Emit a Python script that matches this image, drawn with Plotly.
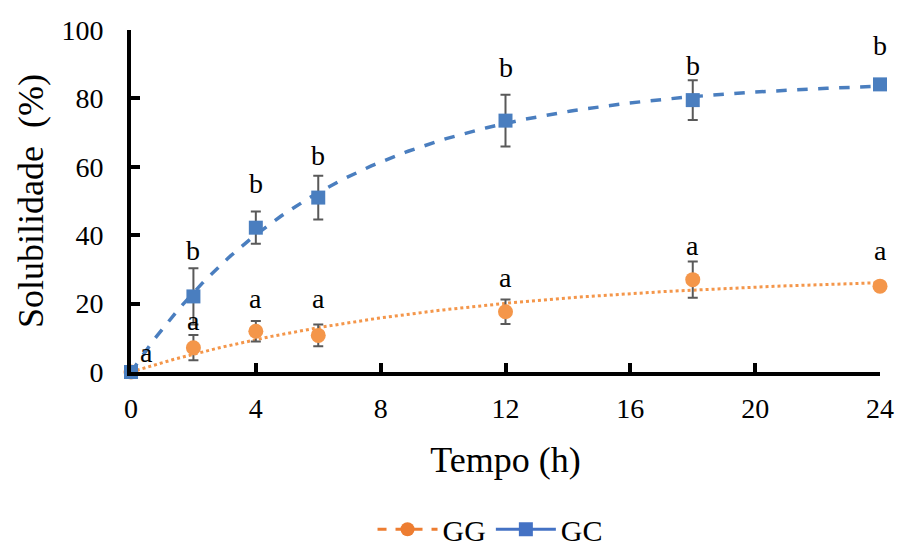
import numpy as np
import plotly.graph_objects as go

# Sampling times (h)
tempo = [0, 2, 4, 6, 12, 18, 24]

# Solubility means and standard deviations (%)
gg_mean = [0.0, 7.1, 11.9, 10.7, 17.6, 27.0, 25.1]
gg_sd = [0.0, 3.7, 3.0, 3.2, 3.6, 5.3, 0.5]
gc_mean = [0.0, 22.1, 42.2, 51.0, 73.5, 79.5, 84.1]
gc_sd = [0.0, 8.2, 4.7, 6.4, 7.6, 5.8, 1.5]

# Significance letters
gg_letters = ["a", "a", "a", "a", "a", "a", "a"]
gc_letters = ["", "b", "b", "b", "b", "b", "b"]

ORANGE = "#F4964A"
BLUE = "#4A7EBF"
ERR = "#595959"
FONT = "Liberation Serif, Times New Roman, serif"


def fit_saturation(x, y):
    """Least-squares fit of y = a*(1 - exp(-k*x)) by scanning k."""
    x = np.asarray(x, float)
    y = np.asarray(y, float)
    best = None
    for k in np.linspace(0.01, 1.0, 2000):
        g = 1 - np.exp(-k * x)
        a = (g @ y) / (g @ g)
        err = np.sum((y - a * g) ** 2)
        if best is None or err < best[0]:
            best = (err, a, k)
    return best[1], best[2]


xs = np.linspace(0, 24, 241)
a_gg, k_gg = fit_saturation(tempo, gg_mean)
gg_trend = a_gg * (1 - np.exp(-k_gg * xs))
a_gc, k_gc = fit_saturation(tempo, gc_mean)
gc_trend = a_gc * (1 - np.exp(-k_gc * xs))

fig = go.Figure()

# Trend curves
fig.add_trace(go.Scatter(x=xs, y=gg_trend, mode="lines", showlegend=False,
                         line=dict(color=ORANGE, width=3, dash="dot"),
                         cliponaxis=False, hoverinfo="skip"))
fig.add_trace(go.Scatter(x=xs, y=gc_trend, mode="lines", showlegend=False,
                         line=dict(color=BLUE, width=3.5, dash="dash"),
                         cliponaxis=False, hoverinfo="skip"))

# Measured points with error bars
fig.add_trace(go.Scatter(x=tempo, y=gg_mean, mode="markers", showlegend=False,
                         marker=dict(color=ORANGE, size=15, symbol="circle"),
                         error_y=dict(type="data", array=gg_sd, color=ERR,
                                      thickness=2, width=5),
                         cliponaxis=False))
fig.add_trace(go.Scatter(x=tempo, y=gc_mean, mode="markers", showlegend=False,
                         marker=dict(color=BLUE, size=14, symbol="square"),
                         error_y=dict(type="data", array=gc_sd, color=ERR,
                                      thickness=2, width=5),
                         cliponaxis=False))

# Legend entries
fig.add_trace(go.Scatter(x=[None], y=[None], mode="lines+markers", name="GG",
                         line=dict(color="#ED7D31", width=3, dash="dash"),
                         marker=dict(color="#ED7D31", size=14, symbol="circle")))
fig.add_trace(go.Scatter(x=[None], y=[None], mode="lines+markers", name="GC",
                         line=dict(color="#4472C4", width=3),
                         marker=dict(color="#4472C4", size=14, symbol="square")))

# Letter placement (pixel offsets above the error-bar tops)
gg_shift = [20, 15, 23, 26, 22, 16, 34]
gc_shift = [0, 18, 28, 20, 27, 15, 34]
gg_xshift = [15, 0, 0, 0, 0, 0, 0]

annotations = []
for i, t in enumerate(tempo):
    if gg_letters[i]:
        annotations.append(dict(x=t, y=gg_mean[i] + gg_sd[i], text=gg_letters[i],
                                showarrow=False, yshift=gg_shift[i],
                                xshift=gg_xshift[i],
                                font=dict(family=FONT, size=28, color="black")))
    if gc_letters[i]:
        annotations.append(dict(x=t, y=gc_mean[i] + gc_sd[i], text=gc_letters[i],
                                showarrow=False, yshift=gc_shift[i],
                                font=dict(family=FONT, size=28, color="black")))

fig.update_layout(
    width=899, height=549,
    margin=dict(l=131, r=19, t=30, b=177, autoexpand=False),
    paper_bgcolor="white", plot_bgcolor="white",
    font=dict(family=FONT, size=28, color="black"),
    annotations=annotations,
    legend=dict(orientation="h", x=0.48, xanchor="center", y=-0.46,
                yanchor="middle", font=dict(family=FONT, size=30),
                itemwidth=60, bgcolor="rgba(0,0,0,0)"),
    xaxis=dict(range=[0, 24], tickvals=[0, 4, 8, 12, 16, 20, 24],
               showgrid=False, zeroline=False, showline=True,
               linecolor="black", linewidth=4, ticks="inside", ticklen=9,
               tickwidth=4, tickcolor="black", ticklabelstandoff=8,
               automargin=False,
               title=dict(text="Tempo (h)", font=dict(family=FONT, size=36),
                          standoff=25)),
    yaxis=dict(range=[0, 100], tickvals=[0, 20, 40, 60, 80, 100],
               showgrid=False, zeroline=False, showline=True,
               linecolor="black", linewidth=4, ticks="inside", ticklen=9,
               tickwidth=4, tickcolor="black", ticklabelstandoff=18,
               automargin=False,
               title=dict(text="Solubilidade  (%)", font=dict(family=FONT, size=36),
                          standoff=8)),
)

fig.write_html("out.html")
